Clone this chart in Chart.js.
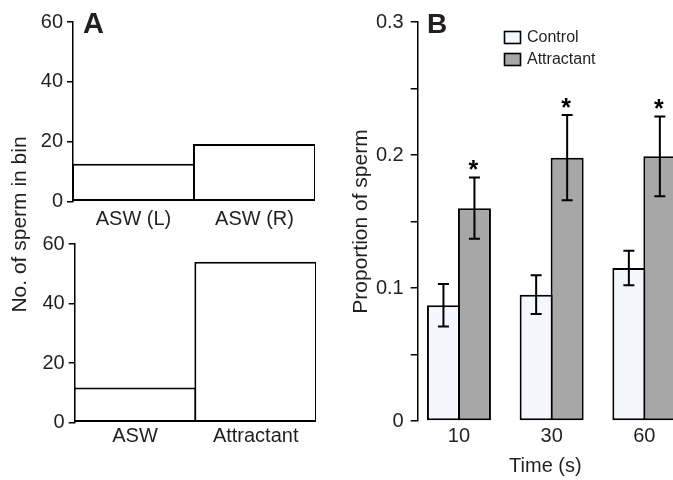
<!DOCTYPE html>
<html><head><meta charset="utf-8">
<script src="https://cdn.jsdelivr.net/npm/chart.js@4"></script>
<style>
html,body{margin:0;padding:0;background:#fff;overflow:hidden;width:673px;height:480px}
canvas{position:absolute;top:0}
#cA1,#cA2{left:0}
#cB{left:340px}
</style></head><body>
<canvas id="cA1" width="340" height="480"></canvas>
<canvas id="cA2" width="340" height="480"></canvas>
<canvas id="cB" width="333" height="480"></canvas>
<script>
// ---- data ----
const binsTop = ['ASW (L)', 'ASW (R)'];
const countsTop = [12.7, 19.3];
const binsBottom = ['ASW', 'Attractant'];
const countsBottom = [11.8, 54];
const countTicks = ['0', '20', '40', '60'];

const times = ['10', '30', '60'];
const controlMean = [0.087, 0.095, 0.115];
const controlErr = [0.016, 0.0145, 0.013];
const attractMean = [0.160, 0.198, 0.199];
const attractErr = [0.023, 0.032, 0.030];
const significant = [true, true, true];
const propTicks = ['0', '', '0.1', '', '0.2', '', '0.3'];
const seriesNames = ['Control', 'Attractant'];

// ---- styling ----
const FONT = "'Liberation Sans', Arial, Helvetica, sans-serif";
const TXT = '#231f20';
Chart.defaults.font.family = FONT;
Chart.defaults.color = TXT;

function yAxisCommon(extra) {
  return Object.assign({
    border: {display: true, color: '#000', width: 1.5},
    grid: {display: true, drawOnChartArea: false, drawTicks: true, tickLength: 6, color: '#000', lineWidth: 1.5}
  }, extra);
}

function makeA(id, labels, values, padding, yWidth, xHeight, xPad, extraPlugin) {
  return new Chart(document.getElementById(id), {
    type: 'bar',
    data: {labels: labels, datasets: [{
      data: values, backgroundColor: '#ffffff', borderColor: '#000', borderWidth: 2,
      borderSkipped: false, inflateAmount: 0,
      barPercentage: 123 / 121, categoryPercentage: 1
    }]},
    options: {
      responsive: false, animation: false, devicePixelRatio: 1,
      layout: {padding: padding},
      plugins: {legend: {display: false}, tooltip: {enabled: false}},
      scales: {
        x: {
          grid: {display: false, drawTicks: false}, border: {display: false},
          ticks: {padding: xPad, color: TXT, font: {size: 20}},
          afterFit: s => { s.height = xHeight; }
        },
        y: yAxisCommon({
          min: 0, max: 60,
          ticks: {stepSize: 20, padding: 4, color: TXT, font: {size: 20}, callback: (v, i) => countTicks[i]},
          afterFit: s => { s.width = yWidth; }
        })
      }
    },
    plugins: extraPlugin ? [extraPlugin] : []
  });
}

makeA('cA1', binsTop, countsTop, {top: 22, left: 0, right: 25, bottom: 248.3}, 73, 30, 6, {
  id: 'panelA',
  afterDraw(chart) {
    const c = chart.ctx; c.save();
    c.fillStyle = TXT; c.font = 'bold 29px ' + FONT;
    c.textAlign = 'left'; c.textBaseline = 'alphabetic';
    c.fillText('A', 83, 33);
    c.restore();
  }
});

makeA('cA2', binsBottom, countsBottom, {top: 244, left: 0, right: 24, bottom: 0}, 74.7, 57.3, 2, {
  id: 'sharedTitle',
  afterDraw(chart) {
    const c = chart.ctx; c.save();
    c.fillStyle = TXT; c.font = '21px ' + FONT;
    c.translate(20, 224.5); c.rotate(-Math.PI / 2);
    c.textAlign = 'center'; c.textBaseline = 'middle';
    c.fillText('No. of sperm in bin', 0, 0);
    c.restore();
  }
});

// ---- panel B ----
const errs = [controlErr, attractErr];
const bPlugin = {
  id: 'panelB',
  afterDatasetsDraw(chart) {
    const c = chart.ctx, ys = chart.scales.y;
    c.save();
    c.strokeStyle = '#000'; c.lineWidth = 2;
    chart.data.datasets.forEach((ds, di) => {
      chart.getDatasetMeta(di).data.forEach((bar, i) => {
        const m = ds.data[i].y, e = errs[di][i];
        const yT = ys.getPixelForValue(m + e), yB = ys.getPixelForValue(m - e);
        const x = bar.x;
        c.beginPath();
        c.moveTo(x, yT); c.lineTo(x, yB);
        c.moveTo(x - 5.5, yT); c.lineTo(x + 5.5, yT);
        c.moveTo(x - 5.5, yB); c.lineTo(x + 5.5, yB);
        c.stroke();
        if (di === 1 && significant[i]) {
          c.fillStyle = '#000'; c.font = 'bold 25px ' + FONT;
          c.textAlign = 'center'; c.textBaseline = 'alphabetic';
          c.fillText('*', x - 1, yT + 0.5);
        }
      });
    });
    c.restore();
  },
  afterDraw(chart) {
    const c = chart.ctx; c.save();
    c.fillStyle = TXT; c.font = 'bold 28px ' + FONT;
    c.textAlign = 'left'; c.textBaseline = 'alphabetic';
    c.fillText('B', 87, 33);
    // legend
    chart.data.datasets.forEach((ds, di) => {
      const by = 31.5 + di * 22;
      c.fillStyle = ds.backgroundColor;
      c.fillRect(164.5, by, 16, 12);
      c.strokeStyle = '#000'; c.lineWidth = 1.6;
      c.strokeRect(164.5, by, 16, 12);
      c.fillStyle = TXT; c.font = '16px ' + FONT;
      c.textBaseline = 'middle';
      c.fillText(ds.label, 187, by + 6.5);
    });
    c.restore();
  }
};

new Chart(document.getElementById('cB'), {
  type: 'bar',
  data: {datasets: [
    {label: seriesNames[0], data: controlMean.map((v, i) => ({x: i, y: v})),
     backgroundColor: '#f5f7fe', borderColor: '#000', borderWidth: 2, borderSkipped: false, inflateAmount: 0,
     barPercentage: 33 / 31, categoryPercentage: 62 / 92.7},
    {label: seriesNames[1], data: attractMean.map((v, i) => ({x: i, y: v})),
     backgroundColor: '#a7a7a7', borderColor: '#000', borderWidth: 2, borderSkipped: false, inflateAmount: 0,
     barPercentage: 33 / 31, categoryPercentage: 62 / 92.7}
  ]},
  options: {
    responsive: false, animation: false, devicePixelRatio: 1,
    layout: {padding: {top: 22, left: 0, right: 0, bottom: 0}},
    plugins: {legend: {display: false}, tooltip: {enabled: false}},
    scales: {
      x: {
        type: 'linear', min: -0.445, max: 2.309, offset: false,
        grid: {display: false, drawTicks: false, offset: false}, border: {display: false},
        afterBuildTicks: s => { s.ticks = times.map((t, i) => ({value: i})); },
        ticks: {padding: 3.3, color: TXT, font: {size: 20}, callback: v => times[v]},
        title: {display: true, text: 'Time (s)', color: TXT, font: {size: 20}, padding: {top: 0, bottom: 1.3}},
        afterFit: s => { s.height = 59; }
      },
      y: yAxisCommon({
        min: 0, max: 0.3,
        grid: {display: true, drawOnChartArea: false, drawTicks: true, tickLength: 7, color: '#000', lineWidth: 1.5},
        ticks: {stepSize: 0.05, padding: 7, color: TXT, font: {size: 20}, callback: (v, i) => propTicks[i]},
        title: {display: true, text: 'Proportion of sperm', color: TXT, font: {size: 21}, padding: {top: 8.4, bottom: 0}},
        afterFit: s => { s.width = 77.7; }
      })
    }
  },
  plugins: [bPlugin]
});
</script>
</body></html>
